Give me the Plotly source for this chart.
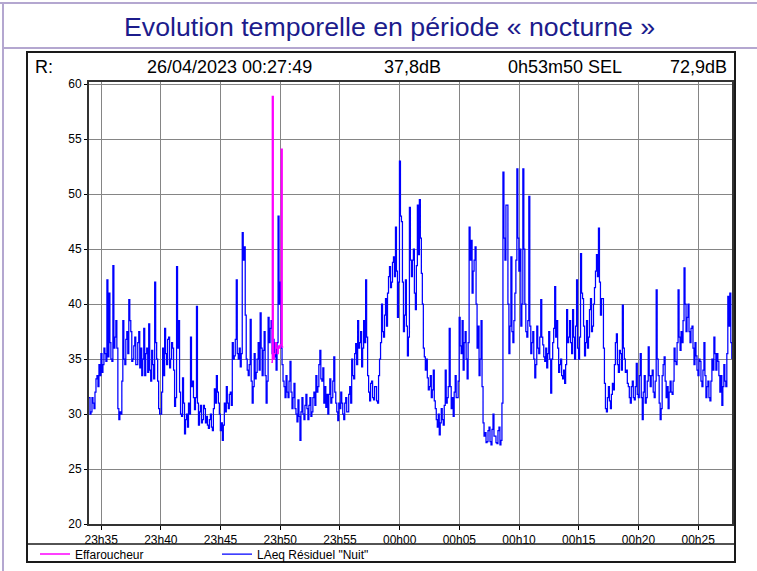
import plotly.graph_objects as go
import pandas as pd

# ---------------- data ----------------
T0 = "2023-04-25 23:33:59"      # start of the measurement (end 00:27:49, 0h53m50)
STEP_S = 5                       # seconds between LAeq values

laeq_2334_2343 = [
    31.5, 30.0, 30.2, 31.5, 31, 30.5, 32, 33.2, 33.5, 32.5, 34.5, 33.5,
    35.5, 33.8, 34.5, 36, 35.5, 34.8, 42.2, 35.2, 41, 36.5, 35, 34.8,
    43.5, 36, 37, 38.5, 36, 30.5, 29.5, 30.2, 30, 33, 38.5, 35,
    34.5, 36.8, 37.5, 35.5, 40.4, 38.5, 37.5, 34.8, 35, 36.2, 37, 34.5,
    34.5, 36.5, 37.5, 34.2, 36, 33.5, 35, 37.8, 33.5, 35.5, 36, 33.8,
    38.2, 34, 33, 35.8, 34.5, 33.2, 42, 36.5, 35, 33, 30.5, 30,
    30, 32, 36, 33.5, 37.8, 35.5, 34.5, 36.8, 37, 34.2, 35, 36.5,
    36, 34, 30.7, 31.5, 43.4, 36, 38.5, 32, 30, 29.8, 33.3, 31,
    28.2, 29.5, 30, 28.8, 31, 30, 37, 32.5, 33, 31.5, 30.4, 31.5,
    39.8, 31, 29, 30.2, 30.8, 29.2, 29.5, 30.8, 30.5, 29.2, 29.8, 29]
laeq_2344_2353 = [
    28.7, 29.5, 30, 28.8, 28.5, 30.5, 32.3, 31, 33.5, 32, 31, 30,
    28.5, 29.2, 27.6, 29, 31, 30.2, 32.5, 31, 30.5, 31.8, 32, 30.8,
    36.5, 35, 35.3, 36.8, 42.2, 35.5, 35, 36, 34.3, 35.5, 46.5, 44,
    45.2, 39, 35, 34, 33.5, 34.5, 38.6, 33, 31, 32.5, 35.5, 33.2,
    33.8, 35, 36.5, 34, 39.2, 36, 33.5, 35.8, 37.5, 33.5, 31, 33,
    38.8, 36.5, 37.8, 38.5, 35.5, 36.8, 35.2, 36.5, 34, 36.5, 48, 40,
    42, 36, 34.5, 33, 32.5, 31.5, 33.5, 32, 31.5, 33, 34.8, 32,
    30.5, 31.5, 32.8, 30.5, 30, 29.3, 31.3, 29.8, 27.6, 30.2, 31.5, 30,
    29.5, 30.8, 31.8, 30.5, 29.5, 30.8, 31.5, 29.8, 30.2, 31.5, 32, 30.8,
    33.5, 32, 32.5, 34.5, 35.8, 33.2, 33, 34.2, 31, 32.5, 30.6, 31.8]
laeq_2354_0003 = [
    30, 31.8, 33.2, 31, 31.5, 33, 35.2, 32, 31, 30.2, 29.4, 31,
    30.5, 32, 31, 30, 29.5, 31, 31.5, 30.2, 30.2, 31.8, 32.5, 31,
    35, 33.5, 33.2, 35.5, 36.4, 34.5, 38.5, 36, 36.5, 37.5, 34.3, 36,
    38.5, 36.5, 42.2, 37, 33.5, 32, 31.2, 32.8, 33, 31.5, 31.3, 32.5,
    32.5, 31.2, 31, 33.5, 35, 36.5, 40, 37.5, 37, 39, 40.5, 38,
    41, 42.5, 43.4, 41.5, 42, 43.8, 44.3, 42.5, 47, 43, 38.8, 42,
    53, 48, 47.5, 42, 37.5, 39, 42.2, 38, 35.3, 37, 48.8, 44,
    42.5, 44, 45, 41, 39.5, 43.5, 49, 44.5, 49.5, 46, 42.8, 40,
    36, 35.2, 34, 35, 33.3, 32.2, 32.5, 33.5, 31.5, 32.2, 34, 31.2,
    30.5, 29.5, 28.8, 30, 28.1, 29.2, 30.5, 29.5, 29, 30.8, 34, 31]
laeq_0004_0013 = [
    31.5, 32.5, 37.8, 32.5, 30.5, 31.5, 29.8, 32, 33.5, 31.5, 31.5, 33,
    38.8, 36.2, 35.5, 38.5, 34, 36.5, 37.5, 35, 33.2, 36.5, 47, 44,
    45.8, 41, 43, 44, 45.2, 40, 36, 38, 33.5, 35, 38.5, 32.5,
    29.2, 28, 28.3, 27.4, 27.5, 28.5, 28.8, 27.5, 27.2, 28.6, 30, 28,
    28, 27.4, 27.3, 28.5, 28.8, 27.2, 27.6, 31, 52, 46, 44, 49,
    49, 40, 35.5, 38, 44.3, 37.5, 36.5, 38.5, 41, 44, 52.3, 46,
    43, 45, 38, 40, 52.3, 45, 40, 37.5, 37, 38.5, 49.8, 38,
    35.5, 36.5, 37.5, 35, 33.3, 34.5, 38, 36, 35.5, 37, 40.4, 37,
    36.3, 35.2, 34.8, 36, 34.2, 35.5, 37.5, 35, 31.9, 35, 36.5, 37.8,
    41.6, 37, 38.5, 36, 33.8, 34.5, 35, 33.5, 33.2, 34, 32.8, 34.5]
laeq_0014_0023 = [
    39.5, 36.5, 37, 38.5, 36.5, 35.5, 39.5, 37, 35, 38, 42.2, 36,
    35, 37, 44.6, 41, 40.5, 38, 35.3, 36.5, 38.5, 36, 37, 39.5,
    40.5, 37.5, 38, 40, 41.5, 43, 44.5, 42.5, 46.9, 42, 39, 40.5,
    40.5, 36, 32.8, 30.5, 30.2, 31.5, 32.5, 31.2, 30.5, 31.8, 32.8, 32.2,
    34.5, 36.5, 37.3, 34.5, 33.8, 35.8, 35.5, 34, 39.9, 36, 35, 33.8,
    34, 32.8, 32.5, 31.5, 31, 32.5, 33, 31.5, 31.3, 32.5, 34.6, 31.8,
    31.5, 33.5, 35.5, 31.5, 29.5, 32, 33.5, 31, 31.5, 33, 36.1, 33.5,
    32.5, 33.5, 34, 32, 31.5, 33, 41.3, 35, 33.5, 31, 29.5, 30.5,
    33.5, 34.5, 35.2, 33, 31.5, 32.5, 30.5, 32, 33, 32, 31.8, 33,
    36, 34.8, 34.5, 36.5, 41.3, 37, 35.8, 37.5, 36.5, 38.5, 43.3, 40]
laeq_0024_0027 = [
    37.5, 38.8, 40, 37.5, 36.5, 37.8, 38, 36, 34.5, 36.5, 35.3, 34,
    33.5, 35, 34.8, 33, 32.5, 34, 36.5, 33.5, 31.5, 32.5, 33, 31.5,
    31.2, 33, 35, 34, 37, 35.5, 34, 35.5, 34.8, 33.5, 32, 33.5,
    30.8, 32.5, 34.5, 33, 32.5, 35.5, 40.7, 38, 41, 36.5, 35]

EFFA_T0 = "2023-04-25 23:49:15"
EFFA_STEP_S = 5
effa_values = [34.7, 58.9, 35, 35.5, 36.5, 36, 35.5, 36.2, 36, 36.3, 54.1, 36.1, 36.1]

header_texts = ["R:", "26/04/2023 00:27:49", "37,8dB", "0h53m50 SEL", "72,9dB"]
title_text = "Evolution temporelle en période « nocturne »"

laeq = (laeq_2334_2343 + laeq_2344_2353 + laeq_2354_0003 +
        laeq_0004_0013 + laeq_0014_0023 + laeq_0024_0027)
x_laeq = pd.date_range(T0, periods=len(laeq), freq=f"{STEP_S}s")
x_effa = pd.date_range(EFFA_T0, periods=len(effa_values), freq=f"{EFFA_STEP_S}s")

# ---------------- layout geometry ----------------
W, H = 757, 571
L, R, T, B = 89, 25, 82, 47
PW, PH = W - L - R, H - T - B


def px(xp):
    return (xp - L) / PW


def py(yp):
    return (H - B - yp) / PH


FONT = "Liberation Sans, Arial, sans-serif"

fig = go.Figure()
fig.add_trace(go.Scatter(
    x=x_laeq, y=laeq, mode="lines", name='LAeq Résiduel "Nuit"',
    line=dict(color="#0000ff", width=1.25, shape="hv"), legendrank=2))
fig.add_trace(go.Scatter(
    x=x_effa, y=effa_values, mode="lines", name="Effaroucheur",
    line=dict(color="#ff00ff", width=1.3, shape="hv"), legendrank=1))

lav = "#b4a7d0"
shapes = [
    dict(type="line", xref="paper", yref="paper", x0=px(0), x1=px(W), y0=py(3), y1=py(3),
         line=dict(color=lav, width=2)),
    dict(type="line", xref="paper", yref="paper", x0=px(3), x1=px(W), y0=py(48), y1=py(48),
         line=dict(color=lav, width=2)),
    dict(type="line", xref="paper", yref="paper", x0=px(3), x1=px(3), y0=py(3), y1=py(H),
         line=dict(color=lav, width=2)),
    dict(type="rect", xref="paper", yref="paper", x0=px(27), x1=px(735), y0=py(52), y1=py(562),
         line=dict(color="#1a1a1a", width=2)),
    dict(type="line", xref="paper", yref="paper", x0=px(27), x1=px(735), y0=py(544), y1=py(544),
         line=dict(color="#1a1a1a", width=1.5)),
]


def label(text, xp, anchor, size=18, color="#000", yp=67):
    return dict(text=text, xref="paper", yref="paper", x=px(xp), y=py(yp),
                xanchor=anchor, yanchor="middle", showarrow=False,
                font=dict(family=FONT, size=size, color=color))


annotations = [
    label(title_text, 389, "center", size=26.7, color="#1c1c8c", yp=27),
    label(header_texts[0], 33, "left"),
    label(header_texts[1], 145, "left"),
    label(header_texts[2], 382, "left"),
    label(header_texts[3], 506, "left"),
    label(header_texts[4], 729, "right"),
]

fig.update_layout(
    width=W, height=H,
    margin=dict(l=L, r=R, t=T, b=B, pad=0, autoexpand=False),
    paper_bgcolor="white", plot_bgcolor="white",
    font=dict(family=FONT, size=12, color="#000"),
    showlegend=True,
    legend=dict(orientation="h", x=px(35), y=py(554), xanchor="left", yanchor="middle",
                entrywidth=137, entrywidthmode="pixels",
                font=dict(family=FONT, size=12, color="#000"),
                bgcolor="rgba(0,0,0,0)", borderwidth=0, traceorder="normal"),
    shapes=shapes, annotations=annotations,
)

fig.update_xaxes(
    type="date",
    range=["2023-04-25 23:33:59", "2023-04-26 00:27:50"],
    tick0="2023-04-25 23:35:00", dtick=300000, tickformat="%Hh%M",
    ticks="outside", ticklen=4, tickcolor="#000",
    showgrid=True, gridcolor="#858585", gridwidth=1,
    showline=True, linecolor="#333", linewidth=2, mirror=True,
    tickfont=dict(family=FONT, size=12, color="#000"), zeroline=False,
)
fig.update_yaxes(
    range=[20, 60.2], tick0=20, dtick=5,
    ticks="outside", ticklen=3, tickcolor="#000",
    showgrid=True, gridcolor="#858585", gridwidth=1,
    showline=True, linecolor="#333", linewidth=2, mirror=True,
    tickfont=dict(family=FONT, size=12, color="#000"), zeroline=False,
)

fig.write_html("out.html", config={"displayModeBar": False},
               post_script="document.body.style.margin='0px';")
